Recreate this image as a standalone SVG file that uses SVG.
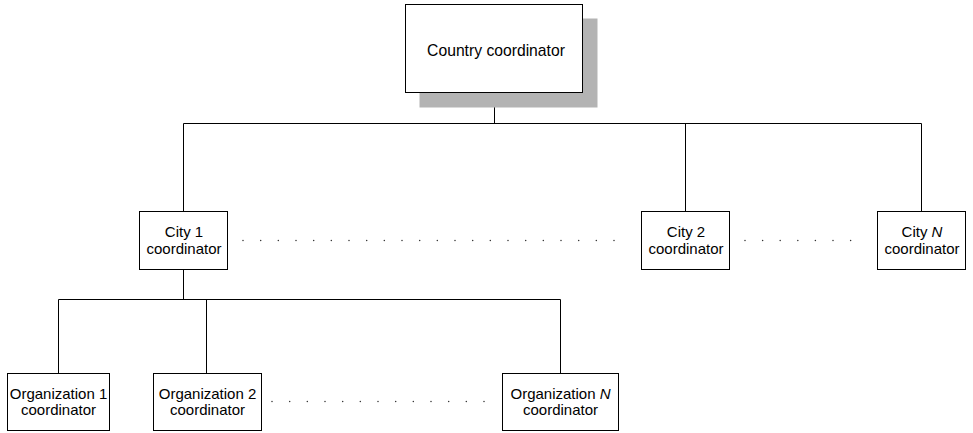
<svg xmlns="http://www.w3.org/2000/svg" width="973" height="433" viewBox="0 0 973 433">
<style>
.box{fill:#fff;stroke:#000;stroke-width:1}
.ln{fill:none;stroke:#000;stroke-width:1}
.t{font-family:"Liberation Sans",Arial,sans-serif;font-size:15px;fill:#000;text-anchor:middle}
.big{font-size:15.7px}
.dot{fill:#333}
</style>
<defs>
<circle id="d" r="0.75" class="dot"/>
</defs>
<g id="connectors">
<path class="ln" d="M494.5,92.5V123.5M183.5,123.5H921.5M183.5,123.5V211.5M685.5,123.5V211.5M921.5,123.5V211.5"/>
<path class="ln" d="M183.5,269.5V299.5M58.5,299.5H560.5M58.5,299.5V373.5M206.5,299.5V373.5M560.5,299.5V373.5"/>
</g>
<g id="country">
<rect x="419.5" y="18.5" width="178" height="89" fill="#b3b3b3"/>
<rect class="box" x="405.5" y="4.5" width="177" height="88"/>
<text class="t big" x="496" y="56">Country coordinator</text>
</g>
<g id="city1">
<rect class="box" x="139.5" y="211.5" width="88" height="58"/>
<text class="t" x="184" y="237">City 1</text>
<text class="t" x="184" y="254">coordinator</text>
</g>
<g id="city2">
<rect class="box" x="641.5" y="211.5" width="88" height="58"/>
<text class="t" x="686" y="237">City 2</text>
<text class="t" x="686" y="254">coordinator</text>
</g>
<g id="cityN">
<rect class="box" x="877.5" y="211.5" width="88" height="58"/>
<text class="t" x="922" y="237">City <tspan font-style="italic">N</tspan></text>
<text class="t" x="922" y="254">coordinator</text>
</g>
<g id="org1">
<rect class="box" x="7.5" y="373.5" width="102" height="57"/>
<text class="t" x="58.5" y="399">Organization 1</text>
<text class="t" x="58.5" y="415">coordinator</text>
</g>
<g id="org2">
<rect class="box" x="153.5" y="373.5" width="108" height="57"/>
<text class="t" x="207.5" y="399">Organization 2</text>
<text class="t" x="207.5" y="415">coordinator</text>
</g>
<g id="orgN">
<rect class="box" x="502.5" y="373.5" width="116" height="57"/>
<text class="t" x="560.5" y="399">Organization <tspan font-style="italic">N</tspan></text>
<text class="t" x="560.5" y="415">coordinator</text>
</g>
<g id="dots">
<use href="#d" x="243" y="240.5"/><use href="#d" x="260.7" y="240.5"/><use href="#d" x="278.3" y="240.5"/><use href="#d" x="296" y="240.5"/><use href="#d" x="313.7" y="240.5"/><use href="#d" x="331.3" y="240.5"/><use href="#d" x="349" y="240.5"/><use href="#d" x="366.7" y="240.5"/><use href="#d" x="384.3" y="240.5"/><use href="#d" x="402" y="240.5"/><use href="#d" x="419.7" y="240.5"/><use href="#d" x="437.3" y="240.5"/><use href="#d" x="455" y="240.5"/><use href="#d" x="472.7" y="240.5"/><use href="#d" x="490.3" y="240.5"/><use href="#d" x="508" y="240.5"/><use href="#d" x="525.7" y="240.5"/><use href="#d" x="543.3" y="240.5"/><use href="#d" x="561" y="240.5"/><use href="#d" x="578.7" y="240.5"/><use href="#d" x="596.3" y="240.5"/><use href="#d" x="614" y="240.5"/>
<use href="#d" x="745" y="240.5"/><use href="#d" x="762.6" y="240.5"/><use href="#d" x="780.2" y="240.5"/><use href="#d" x="797.8" y="240.5"/><use href="#d" x="815.4" y="240.5"/><use href="#d" x="833" y="240.5"/><use href="#d" x="850.6" y="240.5"/>
<use href="#d" x="272" y="401.5"/><use href="#d" x="289.7" y="401.5"/><use href="#d" x="307.3" y="401.5"/><use href="#d" x="325" y="401.5"/><use href="#d" x="342.7" y="401.5"/><use href="#d" x="360.3" y="401.5"/><use href="#d" x="378" y="401.5"/><use href="#d" x="395.7" y="401.5"/><use href="#d" x="413.3" y="401.5"/><use href="#d" x="431" y="401.5"/><use href="#d" x="448.7" y="401.5"/><use href="#d" x="466.3" y="401.5"/><use href="#d" x="484" y="401.5"/>
</g>
</svg>
